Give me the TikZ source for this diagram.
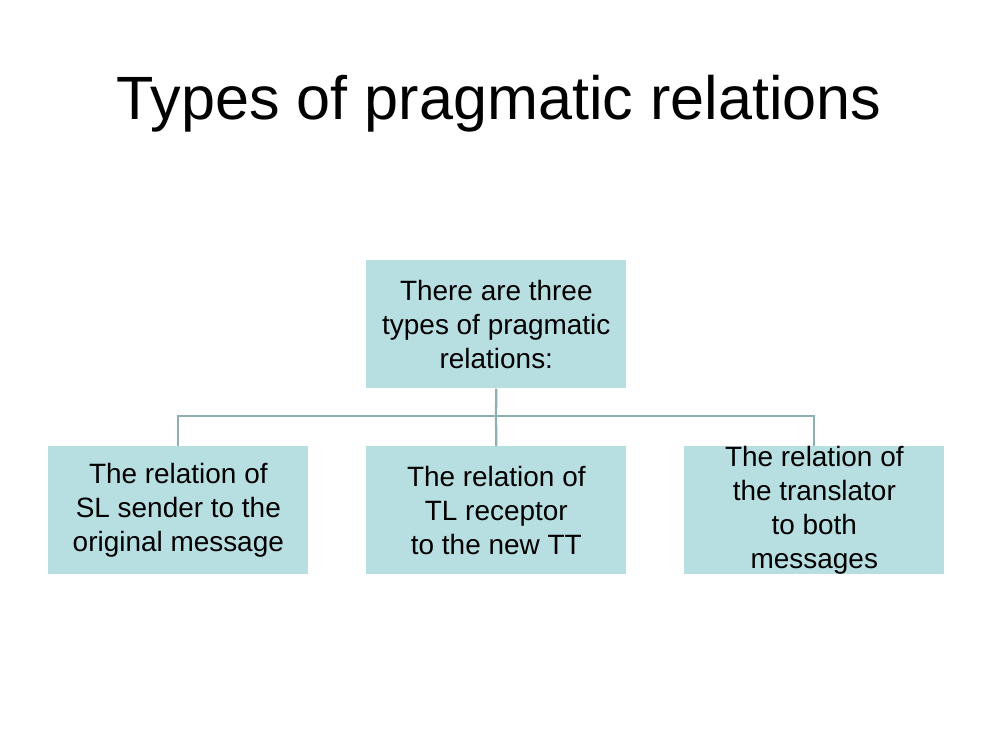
\documentclass[tikz,border=0pt]{standalone}
\usepackage{fontspec}
\setmainfont{Liberation Sans}
\begin{document}
\begin{tikzpicture}[x=0.02cm,y=-0.02cm,
  box/.style={fill=boxc,draw=none,minimum width=5.2cm,minimum height=2.56cm,anchor=north west,inner sep=0pt,align=center,font=\fontsize{15.9}{19.2}\selectfont},
  conn/.style={draw=linec,line width=1.3pt}]
\definecolor{boxc}{HTML}{B7DEE0}
\definecolor{linec}{HTML}{8FB0B0}
\useasboundingbox (0,0) rectangle (1000,750);
\node (title) at (499,104) {\fontsize{34.8}{40}\selectfont Types of pragmatic relations};
\node[box] (top) at (366,260) {There are three\\types of pragmatic\\relations:};
\node[box] (b1) at (48,446) {The relation of\\SL sender to the\\original message};
\node[box] (b2) at (366,446) {The relation of\\TL receptor\\to the new TT};
\node[box] (b3) at (684,446) {The relation of\\the translator\\to both\\messages};
\coordinate (j) at (496,416);
\draw[conn] (top.south) -- (j);
\draw[conn] (b1.north) |- (j) -| (b3.north);
\draw[conn] (j) -- (b2.north);
\end{tikzpicture}
\end{document}
